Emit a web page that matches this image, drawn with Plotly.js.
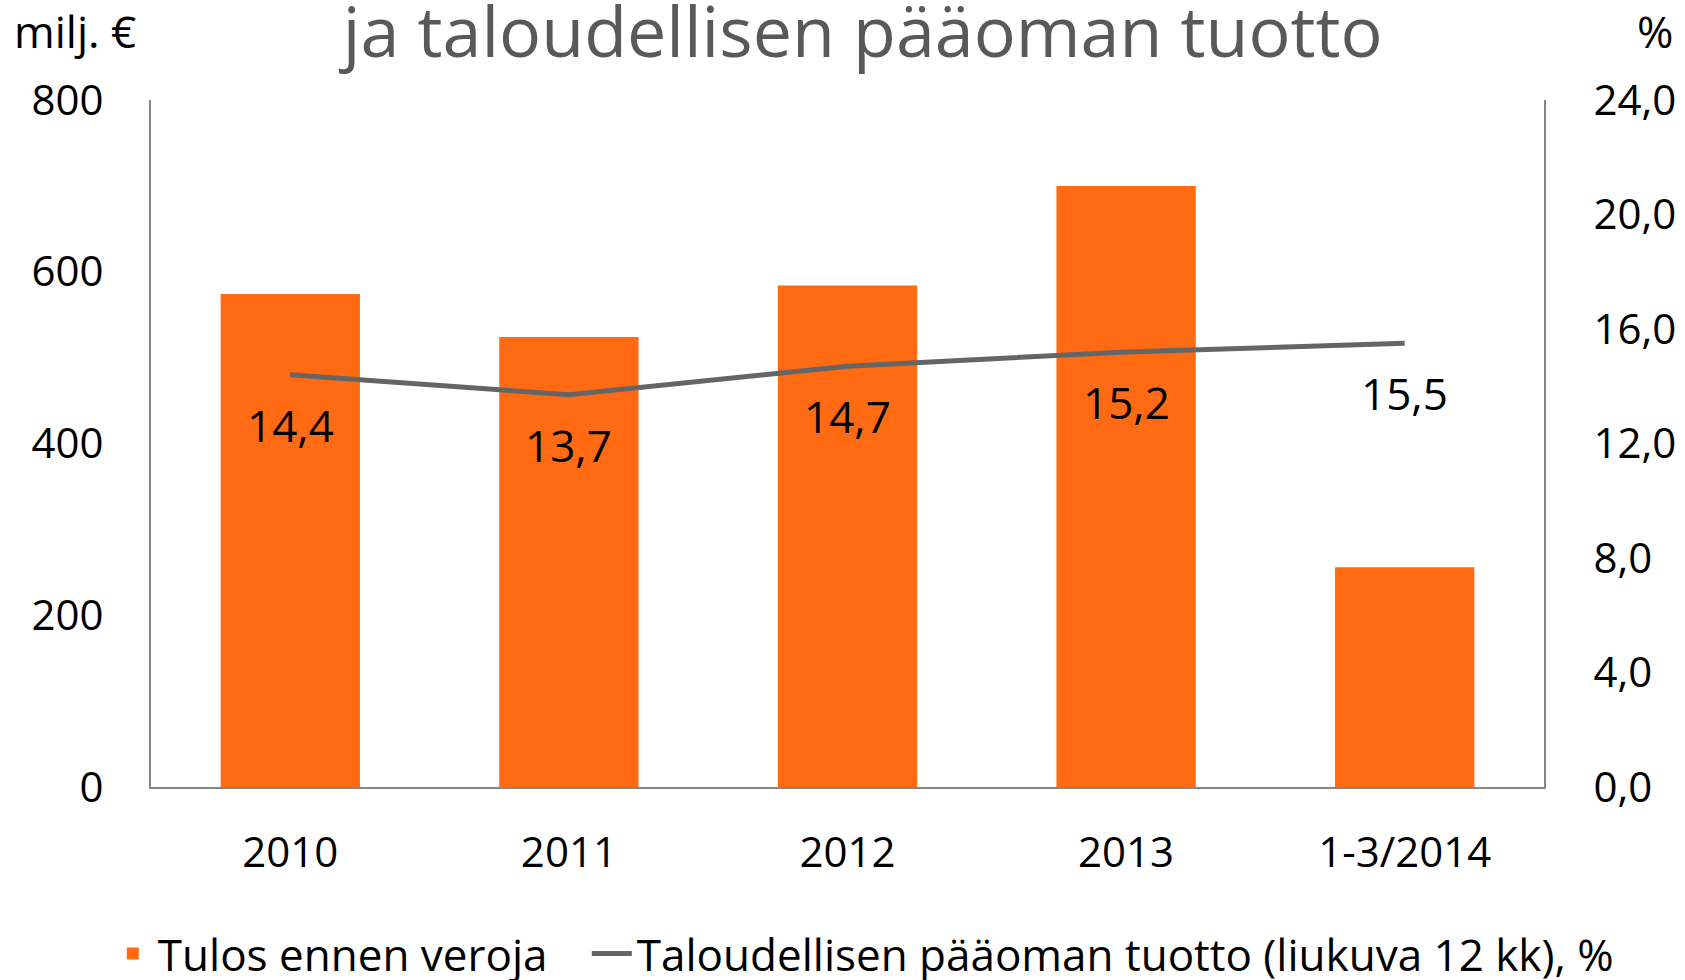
<!DOCTYPE html>
<html>
<head>
<meta charset="utf-8">
<script src="https://cdn.plot.ly/plotly-3.0.1.min.js"></script>
<style>html,body{margin:0;padding:0;background:#fff;}#chart{width:1685px;height:980px;}</style>
</head>
<body>
<div id="chart"></div>
<script>
const categories = ['2010', '2011', '2012', '2013', '1-3/2014'];
const profitBeforeTax = [574, 524, 584, 700, 256];
const returnOnEquity = [14.4, 13.7, 14.7, 15.2, 15.5];
const roeLabels = ['14,4', '13,7', '14,7', '15,2', '15,5'];
const leftTicks = [0, 200, 400, 600, 800];
const rightTicks = [0, 4, 8, 12, 16, 20, 24];
const seriesNames = ['Tulos ennen veroja', 'Taloudellisen pääoman tuotto (liukuva 12 kk), %'];

const FONT = "'Open Sans', sans-serif";
const GAP = '\u00a0\u00a0\u00a0';

const traces = [
  {
    type: 'bar',
    name: seriesNames[0] + GAP,
    x: categories,
    y: profitBeforeTax,
    marker: {color: '#FF6A12'},
    hoverinfo: 'x+y'
  },
  {
    type: 'scatter',
    mode: 'lines',
    name: seriesNames[1],
    x: categories,
    y: returnOnEquity,
    yaxis: 'y2',
    line: {color: '#656565', width: 5}
  }
];

const annotations = categories.map((c, i) => ({
  x: i, y: returnOnEquity[i], xref: 'x', yref: 'y2',
  text: roeLabels[i], showarrow: false,
  yshift: -50, font: {family: FONT, size: 44, color: '#000'}
}));
annotations.push({
  xref: 'paper', yref: 'paper', x: -0.0546, y: 1.10, xanchor: 'center', yanchor: 'middle',
  text: 'milj. €', showarrow: false, font: {family: FONT, size: 44, color: '#000'}
});
annotations.push({
  xref: 'paper', yref: 'paper', x: 1.0797, y: 1.10, xanchor: 'center', yanchor: 'middle',
  text: '%', showarrow: false, font: {family: FONT, size: 44, color: '#000'}
});

const layout = {
  width: 1685,
  height: 980,
  margin: {l: 151, r: 141, t: 100, b: 193, autoexpand: false},
  paper_bgcolor: '#fff',
  plot_bgcolor: '#fff',
  separators: ', ',
  font: {family: FONT, color: '#000'},
  title: {
    text: 'ja taloudellisen pääoman tuotto',
    font: {family: FONT, size: 70, color: '#595959'},
    xref: 'container', x: 0.512, xanchor: 'center',
    yref: 'container', y: 0.967, yanchor: 'middle'
  },
  bargap: 0.5,
  showlegend: true,
  legend: {
    orientation: 'h',
    x: -0.031, xanchor: 'left',
    y: -0.243, yanchor: 'middle',
    font: {family: FONT, size: 44, color: '#000'},
    itemwidth: 40,
    traceorder: 'normal'
  },
  xaxis: {
    type: 'category',
    range: [-0.5, 4.5],
    autorange: false,
    showline: true, linecolor: '#868686', linewidth: 2,
    showgrid: false, zeroline: false,
    ticks: '', ticklabelstandoff: 28,
    tickfont: {family: FONT, size: 42, color: '#000'}
  },
  yaxis: {
    range: [0, 800],
    autorange: false,
    tickvals: leftTicks,
    showline: true, linecolor: '#868686', linewidth: 2,
    showgrid: false, zeroline: false,
    ticks: '', ticklabelstandoff: 37,
    tickfont: {family: FONT, size: 42, color: '#000'}
  },
  yaxis2: {
    range: [0, 24],
    autorange: false,
    tickvals: rightTicks,
    tickformat: '.1f',
    overlaying: 'y', side: 'right',
    showline: true, linecolor: '#868686', linewidth: 2,
    showgrid: false, zeroline: false,
    ticks: '', ticklabelstandoff: 39,
    tickfont: {family: FONT, size: 42, color: '#000'}
  },
  annotations: annotations
};

Plotly.newPlot('chart', traces, layout, {displayModeBar: false, staticPlot: true});
</script>
</body>
</html>
